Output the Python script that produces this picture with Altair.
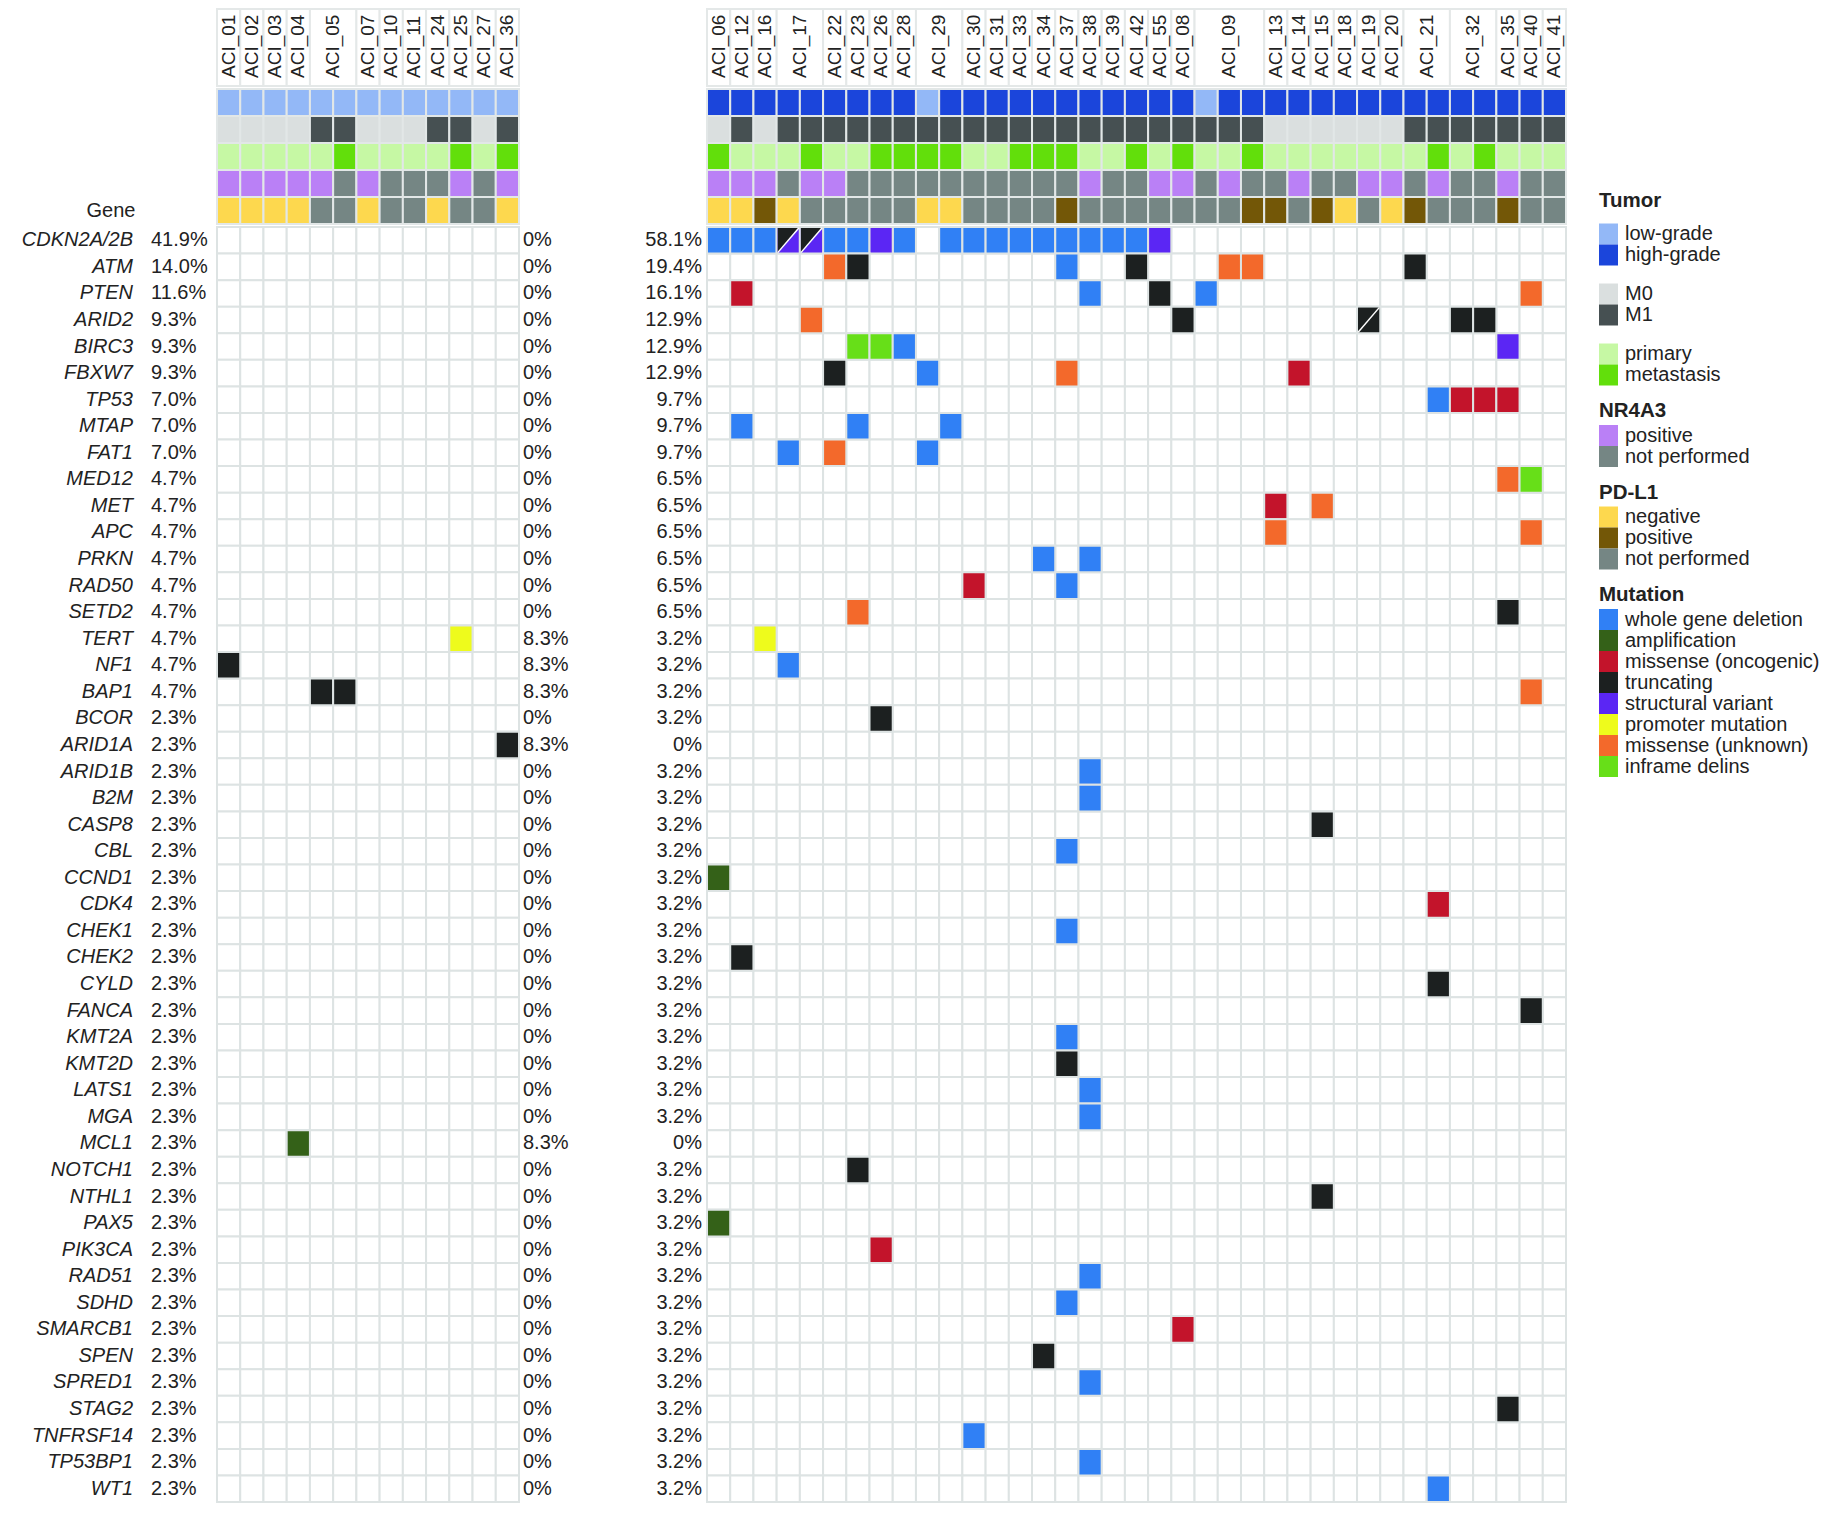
import altair as alt
import pandas as pd

FONT = "Liberation Sans"
TEXT_COLOR = "#222222"
GRID_COLOR = "#dde3e3"
ANN_STROKE = "#e2e7e7"
BOX_STROKE = "#e4e8e8"

# ---------------- data ----------------
GENES = ["CDKN2A/2B", "ATM", "PTEN", "ARID2", "BIRC3", "FBXW7", "TP53", "MTAP", "FAT1",
         "MED12", "MET", "APC", "PRKN", "RAD50", "SETD2", "TERT", "NF1", "BAP1", "BCOR",
         "ARID1A", "ARID1B", "B2M", "CASP8", "CBL", "CCND1", "CDK4", "CHEK1", "CHEK2",
         "CYLD", "FANCA", "KMT2A", "KMT2D", "LATS1", "MGA", "MCL1", "NOTCH1", "NTHL1",
         "PAX5", "PIK3CA", "RAD51", "SDHD", "SMARCB1", "SPEN", "SPRED1", "STAG2",
         "TNFRSF14", "TP53BP1", "WT1"]
PCT_ALL = ["41.9%", "14.0%", "11.6%", "9.3%", "9.3%", "9.3%", "7.0%", "7.0%", "7.0%"] \
    + ["4.7%"] * 9 + ["2.3%"] * 30
PCT_LEFT = ["0%"] * 15 + ["8.3%"] * 3 + ["0%", "8.3%"] + ["0%"] * 14 + ["8.3%"] + ["0%"] * 13
PCT_RIGHT = ["58.1%", "19.4%", "16.1%", "12.9%", "12.9%", "12.9%", "9.7%", "9.7%", "9.7%"] \
    + ["6.5%"] * 6 + ["3.2%"] * 4 + ["0%"] + ["3.2%"] * 14 + ["0%"] + ["3.2%"] * 13

LEFT_PATIENTS = ["ACI_01", "ACI_02", "ACI_03", "ACI_04", "ACI_05", "ACI_07", "ACI_10",
                 "ACI_11", "ACI_24", "ACI_25", "ACI_27", "ACI_36"]
LEFT_SAMPLES = [1, 1, 1, 1, 2, 1, 1, 1, 1, 1, 1, 1]
RIGHT_PATIENTS = ["ACI_06", "ACI_12", "ACI_16", "ACI_17", "ACI_22", "ACI_23", "ACI_26",
                  "ACI_28", "ACI_29", "ACI_30", "ACI_31", "ACI_33", "ACI_34", "ACI_37",
                  "ACI_38", "ACI_39", "ACI_42", "ACI_55", "ACI_08", "ACI_09", "ACI_13",
                  "ACI_14", "ACI_15", "ACI_18", "ACI_19", "ACI_20", "ACI_21", "ACI_32",
                  "ACI_35", "ACI_40", "ACI_41"]
RIGHT_SAMPLES = [1, 1, 1, 2, 1, 1, 1, 1, 2, 1, 1, 1, 1, 1, 1, 1, 1, 1, 1, 3, 1, 1, 1, 1,
                 1, 1, 2, 2, 1, 1, 1]

# annotation codes, one character per sample column
TUMOR_LEFT = "LLLLLLLLLLLLL"
TUMOR_RIGHT = "HHHHHHHHHL" + "HHHHHHHHHHH" + "L" + "HHHHHHHHHHHHHHH"
M_LEFT = "0000110001101"
M_RIGHT = "010" + "111111111111111111111" + "000000" + "1111111"
SITE_LEFT = "PPPPPMPPPPMPM"
SITE_RIGHT = "MPPPMPPMMM" + "MPPMMMPPMP" + "MPPMPPPPPP" + "PMPMPPP"
NR_LEFT = "+++++N+NNN+N+"
NR_RIGHT = "+++N++NNNN" + "NNNNNN+NN+" + "+N+NN+NN++" + "N+NN+NN"
PD_LEFT = "----NN-NN-NN-"
PD_RIGHT = "--+-NNNNN-" + "-NNNN+NNNN" + "NNN++N+-N-" + "+NNN+NN"

TRACKS = ["Tumor", "M", "Site", "NR4A3", "PD-L1"]
TRACK_CODES = {
    "Tumor": {"L": "low-grade", "H": "high-grade"},
    "M": {"0": "M0", "1": "M1"},
    "Site": {"P": "primary", "M": "metastasis"},
    "NR4A3": {"+": "positive", "N": "not performed"},
    "PD-L1": {"-": "negative", "+": "positive", "N": "not performed"},
}

MUT_TYPES = ["whole gene deletion", "amplification", "missense (oncogenic)", "truncating",
             "structural variant", "promoter mutation", "missense (unknown)", "inframe delins"]

MUT_LEFT = [("TERT", 10, "promoter mutation"), ("NF1", 0, "truncating"),
            ("BAP1", 4, "truncating"), ("BAP1", 5, "truncating"),
            ("ARID1A", 12, "truncating"), ("MCL1", 3, "amplification")]

CDKN_DEL_COLS = [0, 1, 2, 5, 6, 8, 10, 11, 12, 13, 14, 15, 16, 17, 18]
MUT_RIGHT = [("CDKN2A/2B", c, "whole gene deletion") for c in CDKN_DEL_COLS] + [
    ("CDKN2A/2B", 7, "structural variant"), ("CDKN2A/2B", 19, "structural variant"),
    ("ATM", 5, "missense (unknown)"), ("ATM", 6, "truncating"), ("ATM", 15, "whole gene deletion"),
    ("ATM", 18, "truncating"), ("ATM", 22, "missense (unknown)"), ("ATM", 23, "missense (unknown)"),
    ("ATM", 30, "truncating"),
    ("PTEN", 1, "missense (oncogenic)"), ("PTEN", 16, "whole gene deletion"), ("PTEN", 19, "truncating"),
    ("PTEN", 21, "whole gene deletion"), ("PTEN", 35, "missense (unknown)"),
    ("ARID2", 4, "missense (unknown)"), ("ARID2", 20, "truncating"), ("ARID2", 32, "truncating"),
    ("ARID2", 33, "truncating"),
    ("BIRC3", 6, "inframe delins"), ("BIRC3", 7, "inframe delins"), ("BIRC3", 8, "whole gene deletion"),
    ("BIRC3", 34, "structural variant"),
    ("FBXW7", 5, "truncating"), ("FBXW7", 9, "whole gene deletion"), ("FBXW7", 15, "missense (unknown)"),
    ("FBXW7", 25, "missense (oncogenic)"),
    ("TP53", 31, "whole gene deletion"), ("TP53", 32, "missense (oncogenic)"),
    ("TP53", 33, "missense (oncogenic)"), ("TP53", 34, "missense (oncogenic)"),
    ("MTAP", 1, "whole gene deletion"), ("MTAP", 6, "whole gene deletion"), ("MTAP", 10, "whole gene deletion"),
    ("FAT1", 3, "whole gene deletion"), ("FAT1", 5, "missense (unknown)"), ("FAT1", 9, "whole gene deletion"),
    ("MED12", 34, "missense (unknown)"), ("MED12", 35, "inframe delins"),
    ("MET", 24, "missense (oncogenic)"), ("MET", 26, "missense (unknown)"),
    ("APC", 24, "missense (unknown)"), ("APC", 35, "missense (unknown)"),
    ("PRKN", 14, "whole gene deletion"), ("PRKN", 16, "whole gene deletion"),
    ("RAD50", 11, "missense (oncogenic)"), ("RAD50", 15, "whole gene deletion"),
    ("SETD2", 6, "missense (unknown)"), ("SETD2", 34, "truncating"),
    ("TERT", 2, "promoter mutation"), ("NF1", 3, "whole gene deletion"), ("BAP1", 35, "missense (unknown)"),
    ("BCOR", 7, "truncating"), ("ARID1B", 16, "whole gene deletion"), ("B2M", 16, "whole gene deletion"),
    ("CASP8", 26, "truncating"), ("CBL", 15, "whole gene deletion"), ("CCND1", 0, "amplification"),
    ("CDK4", 31, "missense (oncogenic)"), ("CHEK1", 15, "whole gene deletion"), ("CHEK2", 1, "truncating"),
    ("CYLD", 31, "truncating"), ("FANCA", 35, "truncating"), ("KMT2A", 15, "whole gene deletion"),
    ("KMT2D", 15, "truncating"), ("LATS1", 16, "whole gene deletion"), ("MGA", 16, "whole gene deletion"),
    ("NOTCH1", 6, "truncating"), ("NTHL1", 26, "truncating"), ("PAX5", 0, "amplification"),
    ("PIK3CA", 7, "missense (oncogenic)"), ("RAD51", 16, "whole gene deletion"),
    ("SDHD", 15, "whole gene deletion"), ("SMARCB1", 20, "missense (oncogenic)"),
    ("SPEN", 14, "truncating"), ("SPRED1", 16, "whole gene deletion"), ("STAG2", 34, "truncating"),
    ("TNFRSF14", 11, "whole gene deletion"), ("TP53BP1", 16, "whole gene deletion"),
    ("WT1", 31, "whole gene deletion"),
]
# cells holding two alterations: (gene, column, upper-left type, lower-right type)
SPLIT_RIGHT = [("CDKN2A/2B", 3, "truncating", "structural variant"),
               ("CDKN2A/2B", 4, "truncating", "structural variant"),
               ("ARID2", 28, "truncating", "truncating")]

KEY_COLORS = {
    "Tumor: low-grade": "#93b8f7", "Tumor: high-grade": "#1b45db",
    "M: M0": "#dadfdf", "M: M1": "#465052",
    "Site: primary": "#c6f8a4", "Site: metastasis": "#62df0b",
    "NR4A3: positive": "#ba80f6", "NR4A3: not performed": "#758684",
    "PD-L1: negative": "#fdd84e", "PD-L1: positive": "#735707", "PD-L1: not performed": "#758684",
    "Mutation: whole gene deletion": "#3080f5", "Mutation: amplification": "#346118",
    "Mutation: missense (oncogenic)": "#c3142b", "Mutation: truncating": "#1c2020",
    "Mutation: structural variant": "#5b26f4", "Mutation: promoter mutation": "#eefb1c",
    "Mutation: missense (unknown)": "#f3692b", "Mutation: inframe delins": "#67df18",
}
COLOR_SCALE = alt.Scale(domain=list(KEY_COLORS.keys()), range=list(KEY_COLORS.values()))

LEG_GROUPS = [("Tumor", "Tumor", ["low-grade", "high-grade"]),
              (None, "M", ["M0", "M1"]),
              (None, "Site", ["primary", "metastasis"]),
              ("NR4A3", "NR4A3", ["positive", "not performed"]),
              ("PD-L1", "PD-L1", ["negative", "positive", "not performed"]),
              ("Mutation", "Mutation", MUT_TYPES)]

assert len(PCT_ALL) == len(PCT_LEFT) == len(PCT_RIGHT) == len(GENES)

# ---------------- layout ----------------
W_GENE, W_LEFT, W_MID, W_RIGHT, W_LEG = 209, 302, 188, 859, 240
H_LAB, H_ANN, H_GRID = 78, 135, 1275
TRI = "M -0.82 -0.96 L 0.82 -0.96 L -0.82 0.96 Z"
DIAG = "M -0.82 0.96 L 0.82 -0.96"


def expand(patients, counts):
    groups, n = [], 0
    for p, k in zip(patients, counts):
        groups.append({"patient": p, "start": n, "end": n + k, "center": n + k / 2})
        n += k
    return n, pd.DataFrame(groups)


N_LEFT, GROUPS_LEFT = expand(LEFT_PATIENTS, LEFT_SAMPLES)
N_RIGHT, GROUPS_RIGHT = expand(RIGHT_PATIENTS, RIGHT_SAMPLES)


def xscale(n):
    return alt.Scale(domain=[0, n], nice=False, zero=False)


def blank(w, h):
    return alt.Chart(pd.DataFrame({"t": [""]})).mark_text(fontSize=1).encode(
        x=alt.value(w / 2), y=alt.value(h / 2), text="t:N").properties(width=w, height=h)


def label_panel(groups, n, w):
    xs = xscale(n)
    box = alt.Chart(groups).mark_rect(fill="white", stroke=BOX_STROKE, strokeWidth=2).encode(
        x=alt.X("start:Q", scale=xs, axis=None), x2="end:Q",
        y=alt.value(1), y2=alt.value(H_LAB))
    txt = alt.Chart(groups).mark_text(angle=270, align="left", baseline="middle", font=FONT,
                                      fontSize=19, color=TEXT_COLOR).encode(
        x=alt.X("center:Q", scale=xs, axis=None), y=alt.value(H_LAB - 8), text="patient:N")
    return alt.layer(box, txt).properties(width=w, height=H_LAB)


def annot_panel(codes, n, w):
    rows = []
    for track, s in zip(TRACKS, codes):
        assert len(s) == n, (track, len(s), n)
        for i, ch in enumerate(s):
            rows.append({"track": track, "c": i, "c1": i + 1,
                         "key": f"{track}: {TRACK_CODES[track][ch]}"})
    return alt.Chart(pd.DataFrame(rows)).mark_rect(stroke=ANN_STROKE, strokeWidth=2).encode(
        x=alt.X("c:Q", scale=xscale(n), axis=None), x2="c1:Q",
        y=alt.Y("track:N", scale=alt.Scale(domain=TRACKS, paddingInner=0, paddingOuter=0), axis=None),
        color=alt.Color("key:N", scale=COLOR_SCALE, legend=None),
    ).properties(width=w, height=H_ANN)


def gene_header():
    return alt.Chart(pd.DataFrame({"track": ["PD-L1"], "t": ["Gene"]})).mark_text(
        align="center", baseline="middle", font=FONT, fontSize=20, color=TEXT_COLOR).encode(
        x=alt.value(103),
        y=alt.Y("track:N", scale=alt.Scale(domain=TRACKS, paddingInner=0, paddingOuter=0), axis=None),
        text="t:N").properties(width=W_GENE, height=H_ANN)


YS = alt.Scale(domain=GENES, paddingInner=0, paddingOuter=0)


def grid_panel(n, muts, splits, w):
    xs = xscale(n)
    X = alt.X("c:Q", scale=xs, axis=None)
    Y = alt.Y("gene:N", scale=YS, axis=None)
    cells = pd.DataFrame([{"gene": g, "c": i, "c1": i + 1} for g in GENES for i in range(n)])
    layers = [alt.Chart(cells).mark_rect(fill="white", stroke=GRID_COLOR, strokeWidth=2).encode(
        x=X, x2="c1:Q", y=Y)]
    mrows = [{"gene": g, "c": c, "c1": c + 1, "key": "Mutation: " + t} for g, c, t in muts]
    mrows += [{"gene": g, "c": c, "c1": c + 1, "key": "Mutation: " + lo} for g, c, up, lo in splits]
    layers.append(alt.Chart(pd.DataFrame(mrows)).mark_rect(stroke=GRID_COLOR, strokeWidth=2).encode(
        x=X, x2="c1:Q", y=Y, color=alt.Color("key:N", scale=COLOR_SCALE, legend=None)))
    if splits:
        sdf = pd.DataFrame([{"gene": g, "cm": c + 0.5, "key": "Mutation: " + up}
                            for g, c, up, lo in splits])
        XM = alt.X("cm:Q", scale=xs, axis=None)
        layers.append(alt.Chart(sdf).mark_point(shape=TRI, filled=True, size=660, opacity=1,
                                                strokeWidth=0).encode(
            x=XM, y=Y, color=alt.Color("key:N", scale=COLOR_SCALE, legend=None)))
        layers.append(alt.Chart(sdf).mark_point(shape=DIAG, filled=False, size=660, opacity=1,
                                                strokeWidth=1.5).encode(
            x=XM, y=Y, color=alt.value("white")))
    return alt.layer(*layers).properties(width=w, height=H_GRID)


def gene_panel():
    df = pd.DataFrame({"gene": GENES, "pct": PCT_ALL})
    Y = alt.Y("gene:N", scale=YS, axis=None)
    names = alt.Chart(df).mark_text(align="right", baseline="middle", font=FONT, fontSize=20,
                                    fontStyle="italic", color=TEXT_COLOR).encode(
        x=alt.value(125), y=Y, text="gene:N")
    pcts = alt.Chart(df).mark_text(align="left", baseline="middle", font=FONT, fontSize=20,
                                   color=TEXT_COLOR).encode(x=alt.value(143), y=Y, text="pct:N")
    return alt.layer(names, pcts).properties(width=W_GENE, height=H_GRID)


def mid_panel():
    df = pd.DataFrame({"gene": GENES, "l": PCT_LEFT, "r": PCT_RIGHT})
    Y = alt.Y("gene:N", scale=YS, axis=None)
    lt = alt.Chart(df).mark_text(align="left", baseline="middle", font=FONT, fontSize=20,
                                 color=TEXT_COLOR).encode(x=alt.value(4), y=Y, text="l:N")
    rt = alt.Chart(df).mark_text(align="right", baseline="middle", font=FONT, fontSize=20,
                                 color=TEXT_COLOR).encode(x=alt.value(183), y=Y, text="r:N")
    return alt.layer(lt, rt).properties(width=W_MID, height=H_GRID)


def legend_panel():
    # sits beside the mutation grid; its y scale counts pixels from the grid top
    step, half = 21, 10.5
    items, titles = [], []
    last = None
    for title, track, labels in LEG_GROUPS:
        if title:
            ty = -26 if last is None else last + 36
            titles.append({"y": ty, "t": title})
            cur = ty + (33 if last is None else 24.5)
        else:
            cur = last + 39
        for k, lab in enumerate(labels):
            y = cur + k * step
            items.append({"y": y, "y0": y - half, "y1": y + half, "label": lab,
                          "key": f"{track}: {lab}"})
        last = cur + (len(labels) - 1) * step
    ysc = alt.Scale(domain=[0, H_GRID], reverse=True, nice=False, zero=False)
    idf, tdf = pd.DataFrame(items), pd.DataFrame(titles)
    sw = alt.Chart(idf).mark_rect().encode(
        x=alt.value(33), x2=alt.value(52),
        y=alt.Y("y0:Q", scale=ysc, axis=None), y2="y1:Q",
        color=alt.Color("key:N", scale=COLOR_SCALE, legend=None))
    lt = alt.Chart(idf).mark_text(align="left", baseline="middle", font=FONT, fontSize=20,
                                  color=TEXT_COLOR).encode(
        x=alt.value(59), y=alt.Y("y:Q", scale=ysc, axis=None), text="label:N")
    tt = alt.Chart(tdf).mark_text(align="left", baseline="middle", font=FONT, fontSize=20.5,
                                  fontWeight="bold", color=TEXT_COLOR).encode(
        x=alt.value(33), y=alt.Y("y:Q", scale=ysc, axis=None), text="t:N")
    return alt.layer(sw, lt, tt).properties(width=W_LEG, height=H_GRID)


panels = [
    blank(W_GENE, H_LAB), label_panel(GROUPS_LEFT, N_LEFT, W_LEFT), blank(W_MID, H_LAB),
    label_panel(GROUPS_RIGHT, N_RIGHT, W_RIGHT), blank(W_LEG, H_LAB),
    gene_header(),
    annot_panel([TUMOR_LEFT, M_LEFT, SITE_LEFT, NR_LEFT, PD_LEFT], N_LEFT, W_LEFT),
    blank(W_MID, H_ANN),
    annot_panel([TUMOR_RIGHT, M_RIGHT, SITE_RIGHT, NR_RIGHT, PD_RIGHT], N_RIGHT, W_RIGHT),
    blank(W_LEG, H_ANN),
    gene_panel(), grid_panel(N_LEFT, MUT_LEFT, [], W_LEFT), mid_panel(),
    grid_panel(N_RIGHT, MUT_RIGHT, SPLIT_RIGHT, W_RIGHT), legend_panel(),
]

chart = alt.concat(*panels, columns=5, spacing={"row": 3, "column": 0}, bounds="flush").properties(
    padding=0
).configure(font=FONT).configure_view(strokeWidth=0)

chart.save("out.html", embed_options={"renderer": "svg", "actions": False})
